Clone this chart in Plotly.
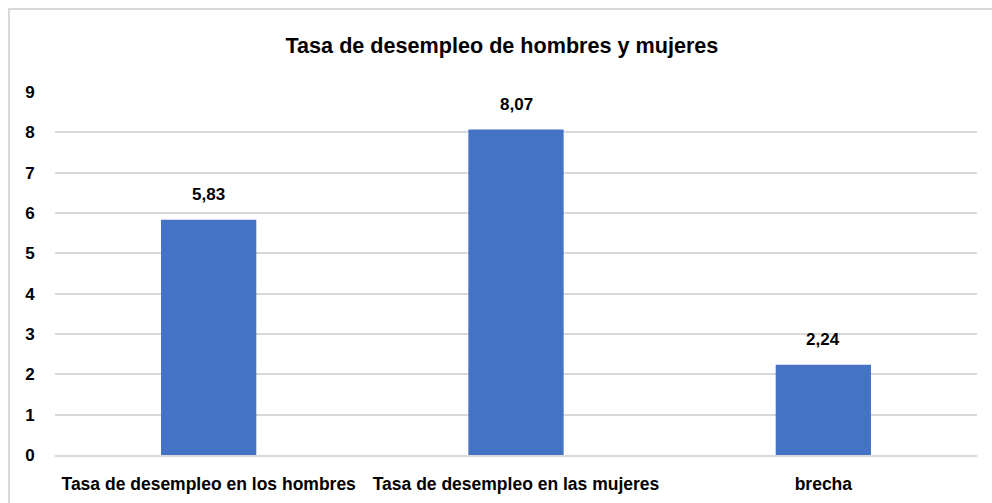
import plotly.graph_objects as go

# datos
categorias = ["Tasa de desempleo en los hombres", "Tasa de desempleo en las mujeres", "brecha"]
valores = [5.83, 8.07, 2.24]
ticks_y = [0, 1, 2, 3, 4, 5, 6, 7, 8, 9]

fuente = "Liberation Sans, Arial, sans-serif"

fig = go.Figure()
fig.add_trace(go.Bar(x=categorias, y=valores, marker_color="#4472C4",
                     marker_line_width=0, width=0.31))

# etiquetas de valor sobre las barras
for c, v in zip(categorias, valores):
    fig.add_annotation(x=c, y=v, text=f"{v:.2f}".replace(".", ","),
                       showarrow=False, yanchor="bottom", yshift=14,
                       font=dict(family=fuente, size=17, color="black", weight="bold"))

# borde del grafico (arriba e izquierda)
fig.add_shape(type="rect", xref="paper", yref="paper",
              x0=-0.0499, x1=1.2, y0=-0.5, y1=1.2287,
              line=dict(color="#D9D9D9", width=2), layer="below")

fig.update_layout(
    title=dict(text="Tasa de desempleo de hombres y mujeres", x=0.506, xanchor="center",
               y=0.909, yanchor="middle",
               font=dict(family=fuente, size=21.6, color="black", weight="bold")),
    width=992, height=503,
    margin=dict(l=55, r=15, t=92, b=48),
    plot_bgcolor="white", paper_bgcolor="white",
    showlegend=False,
    bargap=0.69,
)
fig.update_yaxes(range=[0, 9], tickvals=ticks_y, showgrid=True, gridcolor="#D9D9D9",
                 gridwidth=1.5, zeroline=False, showline=False, automargin=False,
                 ticks="outside", ticklen=16, tickcolor="rgba(0,0,0,0)",
                 tickfont=dict(family=fuente, size=17, color="black", weight="bold"))
fig.update_xaxes(showline=True, linecolor="#D9D9D9", linewidth=1.5, automargin=False,
                 ticks="outside", ticklen=12, tickcolor="rgba(0,0,0,0)",
                 tickfont=dict(family=fuente, size=17.5, color="black", weight="bold"))

# quitar el margen por defecto del body para que la figura llene la ventana
fig.write_html("out.html", config={"displayModeBar": False},
               post_script="document.body.style.margin='0';document.body.style.overflow='hidden';")
